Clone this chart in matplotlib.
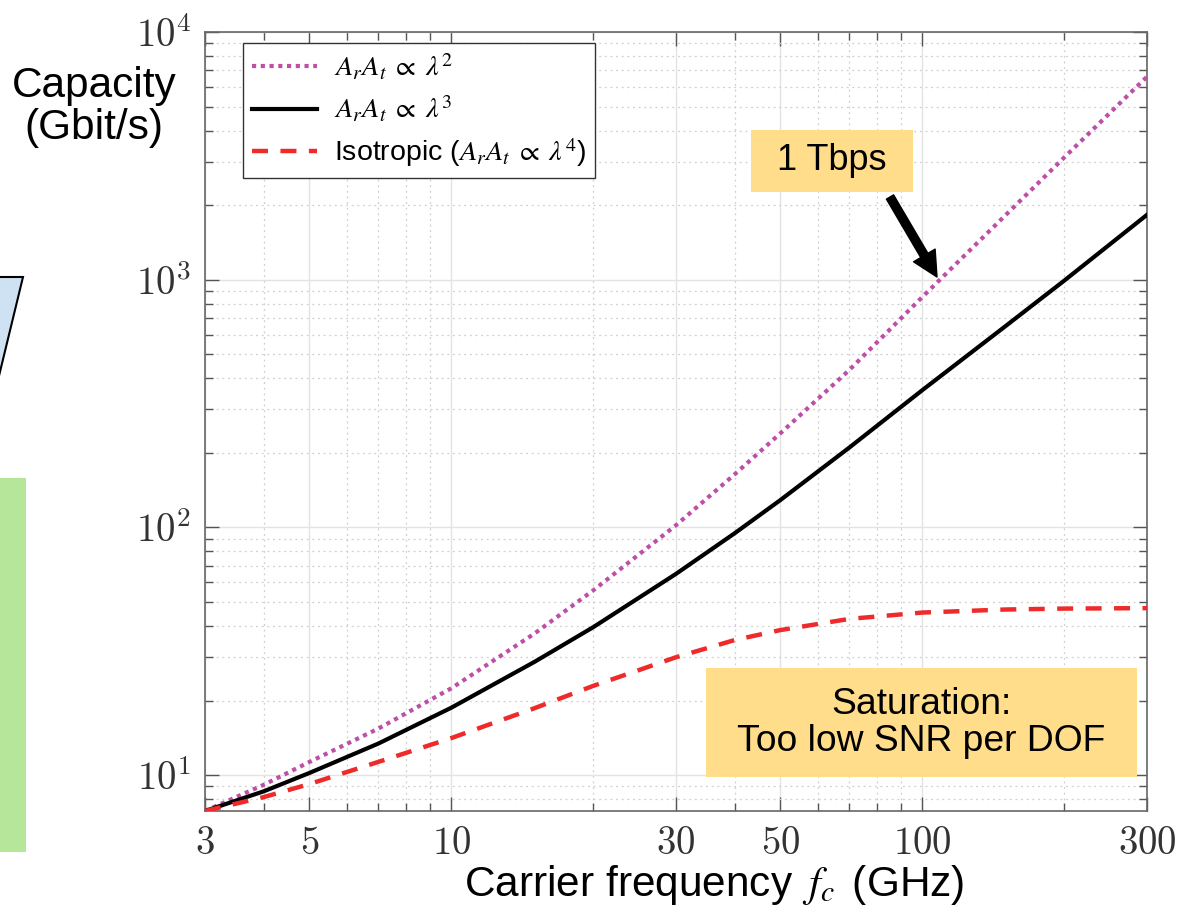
import matplotlib
matplotlib.use('Agg')
import matplotlib.pyplot as plt
from matplotlib.patches import Rectangle, Polygon, FancyArrowPatch
from matplotlib.font_manager import FontProperties

# ========== DATA ==========
freq = [3, 4, 5, 7, 10, 15, 20, 30, 40, 50, 70, 100, 150, 200, 300]  # GHz
cap_lam2 = [7.16, 9.14, 11.3, 15.4, 22.4, 37.2, 55.6, 102, 164, 240, 432, 851, 1816, 3110, 6600]
cap_lam3 = [7.16, 8.6, 10.2, 13.4, 18.7, 28.6, 39.5, 64.9, 94.8, 129, 210, 358, 648, 990, 1828]
cap_iso = [7.16, 8.15, 9.2, 11.3, 14.1, 18.6, 22.9, 29.9, 35.1, 38.5, 42.7, 45.3, 46.6, 47.0, 47.2]

xticks = [3, 5, 10, 30, 50, 100, 300]
xticks_minor = [4, 6, 7, 8, 9, 20, 40, 60, 70, 80, 90, 200]
yticks = [10, 100, 1000, 10000]
yticks_minor = [8, 9] + [m * d for d in (10, 100, 1000) for m in range(2, 10)]

labels = [r'$A_rA_t\;\propto\;\lambda^2$',
          r'$A_rA_t\;\propto\;\lambda^3$',
          r'Isotropic ($A_rA_t\;\propto\;\lambda^4$)']
# ===================================================

plt.rcParams['font.family'] = 'Liberation Sans'
plt.rcParams['mathtext.fontset'] = 'cm'

W, H = 1177, 916
fig = plt.figure(figsize=(W / 100, H / 100), dpi=100)

def fx(px):
    return px / W

def fy(py):
    return 1 - py / H

ax = fig.add_axes([fx(205), fy(811), (1147 - 205) / W, (811 - 32) / H])
ax.set_xscale('log')
ax.set_yscale('log')
ax.set_xlim(3, 300)
ax.set_ylim(7.16, 10000)

ax.plot(freq, cap_lam2, color='#BD4FA8', lw=3.0, linestyle=(0, (1.0, 1.1)), label=labels[0], zorder=3)
ax.plot(freq, cap_lam3, color='black', lw=3.0, label=labels[1], zorder=3)
ax.plot(freq, cap_iso, color='#EE2A2A', lw=3.2, linestyle=(0, (3.6, 2.8)), label=labels[2], zorder=3)

# ticks
ax.set_xticks(xticks)
ax.set_xticks(xticks_minor, minor=True)
ax.set_xticklabels([f'${t}$' for t in xticks])
ax.set_xticklabels([], minor=True)
ax.set_yticks(yticks)
ax.set_yticks(yticks_minor, minor=True)
ax.set_yticklabels([f'$10^{{{i}}}$' for i in range(1, 5)])
ax.set_yticklabels([], minor=True)
ax.tick_params(which='both', direction='in', top=True, right=True, color='#555555', width=1.0)
ax.tick_params(which='major', length=10, labelsize=28, labelcolor='#333333')
ax.tick_params(which='minor', length=6)
ax.tick_params(axis='x', which='major', pad=11)
ax.tick_params(axis='y', which='major', pad=10)

ax.grid(which='major', color='#e3e3e3', lw=1.0, linestyle='-')
ax.grid(which='minor', color='#cfcfcf', lw=0.9, linestyle=(0, (1.5, 3)))
ax.set_axisbelow(True)
for s in ax.spines.values():
    s.set_color('#666666')
    s.set_linewidth(1.2)

leg_prop = FontProperties(family='Liberation Sans', size=20.5, math_fontfamily='stix')
leg = ax.legend(loc='upper left', bbox_to_anchor=((243 - 205) / 942, (811 - 43) / 779),
                borderaxespad=0, prop=leg_prop, fancybox=False, framealpha=1,
                edgecolor='#333333', handlelength=2.3, labelspacing=0.42,
                borderpad=0.3, handletextpad=0.6)
leg.get_frame().set_linewidth(1.0)

# axis labels
fig.text(fx(714), fy(885), r'Carrier frequency $\,f_c\,$ (GHz)', fontsize=30.5,
         ha='center', va='center', math_fontfamily='stix')
fig.text(fx(94), fy(107), 'Capacity\n(Gbit/s)', fontsize=30.5, ha='center', va='center',
         linespacing=1.05)

# annotation boxes
box_col = '#FFDD8A'
fig.add_artist(Rectangle((fx(751), fy(192)), (913 - 751) / W, (192 - 130) / H,
                         transform=fig.transFigure, facecolor=box_col, edgecolor='none', zorder=5))
fig.text(fx(832), fy(161), '1 Tbps', fontsize=26, ha='center', va='center', zorder=6)

fig.add_artist(Rectangle((fx(706), fy(777)), (1137 - 706) / W, (777 - 668) / H,
                         transform=fig.transFigure, facecolor=box_col, edgecolor='none', zorder=5))
fig.text(fx(921), fy(723), 'Saturation:\nToo low SNR per DOF', fontsize=26.8,
         ha='center', va='center', linespacing=1.05, zorder=6)

arrow = FancyArrowPatch((fx(890), fy(197)), (fx(937), fy(277)), transform=fig.transFigure,
                        arrowstyle='simple,head_length=0.9,head_width=0.9,tail_width=0.3',
                        mutation_scale=20, color='black', shrinkA=0, shrinkB=0, zorder=6)
fig.add_artist(arrow)

# cropped shapes on the left edge
fig.add_artist(Polygon([(fx(-5), fy(277)), (fx(23), fy(277)), (fx(-2), fy(380))], closed=True,
                       transform=fig.transFigure, facecolor='#CFE2F3', edgecolor='black', lw=1.5))
fig.add_artist(Rectangle((0, fy(852)), 26 / W, (852 - 478) / H, transform=fig.transFigure,
                         facecolor='#B5E69A', edgecolor='none'))

fig.savefig('out.png', dpi=100)
